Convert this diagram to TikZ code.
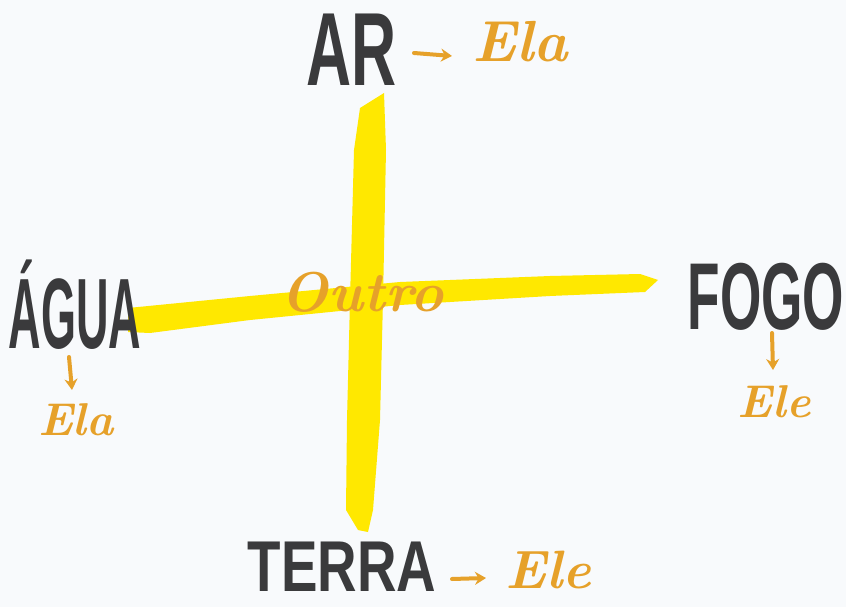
\documentclass[tikz,border=0pt]{standalone}
\usepackage{fontspec}
\usetikzlibrary{arrows.meta}
\newfontfamily\blkfont{Liberation Sans}
\definecolor{paper}{HTML}{F8FAFC}
\definecolor{marker}{HTML}{FFE800}
\definecolor{ink}{HTML}{3A3A3C}
\definecolor{orangeink}{HTML}{E6A12A}
\tikzset{
  bigword/.style={inner sep=0pt, text=ink, font=\blkfont\bfseries},
  handword/.style={inner sep=0pt, text=orangeink, font=\bfseries\itshape},
  handarrow/.style={draw=orangeink, line width=4pt, line cap=round, -{Stealth[length=11pt,width=13pt]}},
  band/.style={fill=marker, draw=none}
}
\begin{document}
\begin{tikzpicture}[x=1pt,y=-1pt]
\fill[paper] (0,0) rectangle (846,607);
\useasboundingbox (0,0) rectangle (846,607);
% yellow cross
\fill[band] (384,93) -- (386,150) -- (383,300) -- (380,420) -- (373,510) -- (368,532) -- (358,530) -- (346,510) -- (347,420) -- (350,300) -- (354,150) -- (360,108) -- cycle;
\fill[band] (128,308) -- (250,296) -- (400,282) -- (550,276) -- (640,274) -- (658,280) -- (645,292) -- (550,296) -- (400,305) -- (250,320) -- (150,333) -- (128,332) -- cycle;
% labels
\node[bigword] (ar) at (352,50) {\scalebox{0.6}[1]{\fontsize{104}{104}\selectfont AR}};
\node[bigword] (agua) at (75,305) {\scalebox{0.45}[1]{\fontsize{100}{100}\selectfont ÁGUA}};
\node[bigword] (fogo) at (766,297) {\scalebox{0.56}[1]{\fontsize{95}{95}\selectfont FOGO}};
\node[bigword] (terra) at (342,567) {\scalebox{0.76}[1]{\fontsize{72}{72}\selectfont TERRA}};
% handwritten words
\node[handword] (ela1) at (520,42) {\fontsize{58}{58}\selectfont Ela};
\node[handword] (ela2) at (76,420) {\fontsize{46}{46}\selectfont Ela};
\node[handword] (ele1) at (774,402) {\fontsize{46}{46}\selectfont Ele};
\node[handword] (ele2) at (548,570) {\fontsize{54}{54}\selectfont Ele};
\node[handword] (outro) at (362,292) {\fontsize{56}{56}\selectfont Outro};
% arrows
\coordinate (a1s) at (414,53); \coordinate (a1e) at (452,56);
\coordinate (a2s) at (69,357); \coordinate (a2e) at (72,390);
\coordinate (a3s) at (772,333); \coordinate (a3e) at (773,370);
\coordinate (a4s) at (452,579); \coordinate (a4e) at (486,578);
\draw[handarrow] (a1s) -- (a1e);
\draw[handarrow] (a2s) -- (a2e);
\draw[handarrow] (a3s) -- (a3e);
\draw[handarrow] (a4s) -- (a4e);
\end{tikzpicture}
\end{document}
